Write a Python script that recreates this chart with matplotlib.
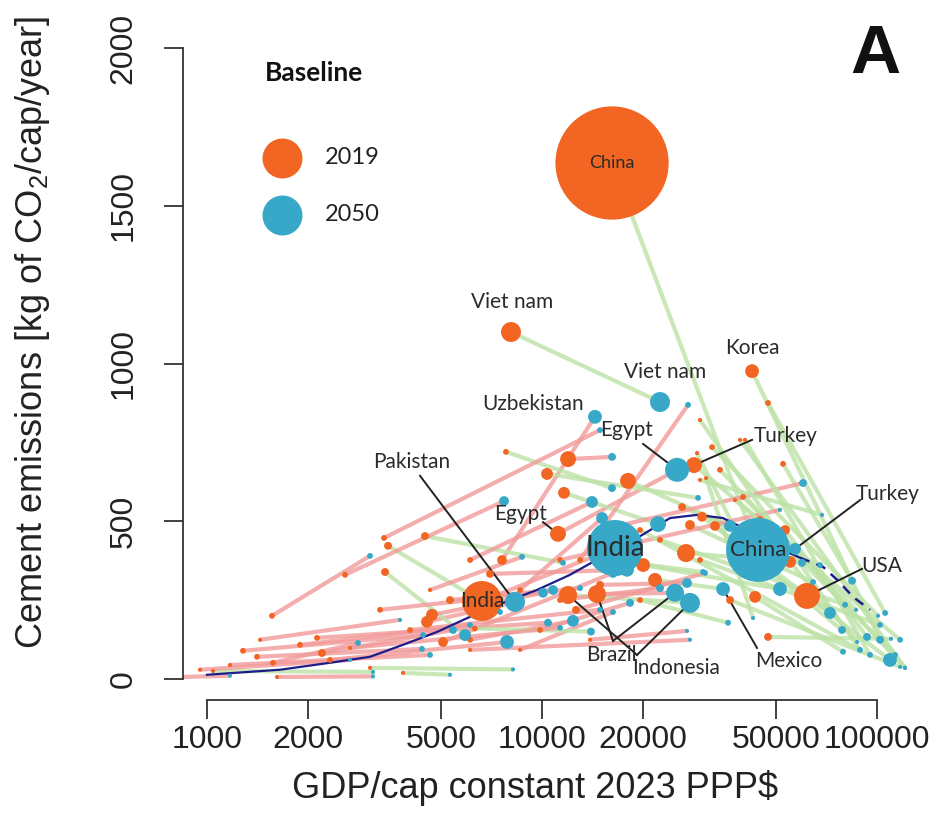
import numpy as np
import matplotlib.pyplot as plt
from matplotlib import font_manager

# country-level cement emissions, 2019 vs 2050 baseline
gdp_2019 = [16180, 6620, 8080, 42360, 7597, 11160, 28420, 4536, 61800, 21740, 14590, 11960,
            11960, 10350, 11630, 18060, 20030, 26910, 26180, 30030, 32840, 27650, 53140, 54990,
            43240, 47270, 52410, 39810, 32170, 47270, 14900, 29020, 30870, 7806, 4474, 12990,
            3470, 3399, 1563, 2582, 1281, 2130, 1410, 1574, 831, 1618, 1042, 2204,
            6994, 5064, 4694, 12630, 11320, 3066, 3846, 2328, 6098, 8597, 6098, 9863,
            8597, 14900, 11320, 19610, 13910, 15960, 29620, 5314, 4631, 3376, 39000, 29620,
            37680, 6300, 33980, 40360, 44740, 29620, 19610, 36410, 22500, 953, 1171, 1895,
            2673, 1440, 4037, 6098, 3285]
em_2019 = [1636, 247, 1100, 976, 377, 460, 678, 181, 263, 314, 269, 266,
           697, 650, 590, 628, 361, 399, 545, 514, 485, 488, 472, 371,
           260, 133, 682, 577, 735, 875, 472, 716, 637, 720, 453, 377,
           422, 339, 200, 330, 89, 130, 70, 51, 6, 6, 25, 82,
           333, 117, 203, 219, 377, 35, 19, 60, 377, 282, 124, 155,
           92, 298, 250, 250, 124, 377, 631, 250, 282, 447, 758, 821,
           567, 160, 663, 758, 504, 377, 472, 250, 441, 29, 44, 108,
           98, 124, 155, 92, 219]
gdp_2050 = [44140, 16510, 22500, 102100, 14390, 25300, 56920, 8307, 109300, 34700, 24950, 27650,
            16180, 29230, 22200, 36410, 51320, 59720, 67570, 72380, 78620, 64420, 93340, 87170,
            79160, 110100, 84220, 86580, 100700, 105700, 60130, 42650, 42650, 16180, 11550, 27280,
            7493, 5890, 3066, 7703, 4413, 10420, 4383, 2823, 1171, 3130, 3130, 5424,
            17940, 16290, 10070, 30660, 51320, 8193, 5314, 7862, 14100, 15110, 12370, 18310,
            16290, 27090, 22500, 35920, 27090, 30240, 68500, 10790, 8717, 14900, 121200, 88980,
            117200, 14000, 121200, 95300, 113200, 102100, 89010, 117200, 80260, 2673, 4631, 6098,
            11320, 3769, 14900, 27650, 12990]
em_2050 = [409, 415, 878, 124, 831, 663, 412, 244, 60, 285, 273, 241,
           704, 574, 491, 485, 285, 368, 361, 209, 155, 307, 133, 117,
           86, 127, 311, 219, 200, 209, 621, 361, 193, 605, 368, 869,
           212, 139, 390, 564, 139, 178, 95, 114, 10, 8, 22, 155,
           346, 336, 273, 336, 536, 30, 13, 117, 561, 510, 184, 241,
           212, 304, 288, 178, 152, 339, 520, 282, 387, 789, 35, 92,
           124, 150, 35, 76, 76, 171, 92, 38, 235, 60, 76, 171,
           162, 187, 219, 124, 288]
# national totals (Mt CO2), set the dot areas
mt_2019 = [2290, 283, 69, 32, 15, 43, 43, 23, 118, 32, 56, 56,
           43, 23, 23, 43, 32, 56, 9, 15, 15, 15, 15, 23,
           23, 9, 4, 4, 4, 4, 4, 1, 1, 4, 9, 4,
           9, 9, 4, 4, 4, 4, 4, 4, 1, 1, 1, 9,
           9, 15, 23, 9, 4, 1, 1, 4, 4, 4, 4, 4,
           1, 9, 4, 4, 1, 4, 1, 9, 1, 4, 1, 1,
           1, 4, 4, 1, 9, 4, 4, 9, 4, 1, 1, 4,
           1, 1, 4, 1, 4]
mt_2050 = [729, 558, 69, 9, 32, 100, 23, 69, 32, 32, 56, 69,
           9, 4, 43, 23, 32, 9, 4, 23, 9, 4, 9, 1,
           4, 1, 9, 1, 1, 4, 9, 9, 1, 9, 4, 4,
           4, 23, 4, 15, 4, 9, 4, 4, 1, 1, 1, 9,
           32, 15, 15, 4, 1, 1, 1, 32, 23, 23, 23, 9,
           4, 15, 9, 4, 1, 4, 1, 15, 4, 4, 1, 4,
           4, 9, 1, 4, 4, 4, 1, 1, 4, 1, 4, 4,
           4, 1, 4, 1, 4]
country = ['China', 'India', 'Viet nam', 'Korea', 'Uzbekistan', 'Egypt', 'Turkey',
           'Pakistan', 'USA', 'Mexico', 'Brazil', 'Indonesia']
country += [''] * (len(gdp_2019) - len(country))

# fitted curve read along its path
curve_gdp = [1000, 1652, 2328, 3067, 3846, 4864, 6100, 7654, 9660, 12120, 14190,
             19880, 24100, 29020, 34670, 39810, 53830, 58930]
curve_em = [13, 29, 51, 70, 108, 149, 197, 241, 282, 330, 371,
            456, 510, 520, 510, 479, 403, 384]
curve_gdp_ext = [58930, 69040, 76030, 84800, 95300]
curve_em_ext = [384, 355, 314, 260, 219]

xticks = [1000, 2000, 5000, 10000, 20000, 50000, 100000]
yticks = [0, 500, 1000, 1500, 2000]

ORANGE = '#F26522'
BLUE = '#38A8C8'
PINK = '#F29A9A'
GREEN = '#BDE2A6'

names = {f.name for f in font_manager.fontManager.ttflist}
narrow = 'Liberation Sans Narrow' in names
tick_font = 'Liberation Sans Narrow' if narrow else 'Liberation Sans'
tick_size = 27 if narrow else 23
lab_font = 'Lato'
plt.rcParams['font.family'] = ['Liberation Sans', 'DejaVu Sans']
plt.rcParams['mathtext.default'] = 'regular'

fig = plt.figure(figsize=(9.47, 8.13), dpi=100)
ax = fig.add_axes([183 / 947, 113 / 813, 747 / 947, 677 / 813])
ax.set_xscale('log')
ax.set_xlim(848, 143900)
ax.set_ylim(-67, 2080)

# connecting segments: red-ish when emissions rise, green when they fall
for g0, e0, g1, e1 in zip(gdp_2019, em_2019, gdp_2050, em_2050):
    col = PINK if e1 > e0 else GREEN
    ax.plot([g0, g1], [e0, e1], color=col, lw=3.0, alpha=0.8,
            solid_capstyle='butt', zorder=1)

ax.plot(curve_gdp, curve_em, color='#1c1c8a', lw=1.6, zorder=2)
ax.plot(curve_gdp_ext, curve_em_ext, color='#1c1c8a', lw=1.8,
        ls=(0, (4, 3)), zorder=2)

s19 = 6 + 2.9 * np.array(mt_2019)
s50 = 6 + 2.9 * np.array(mt_2050)
ax.scatter(gdp_2019, em_2019, s=s19, color=ORANGE, lw=0, zorder=4)
ax.scatter(gdp_2050, em_2050, s=s50, color=BLUE, lw=0, zorder=5)

idx = {c: i for i, c in enumerate(country) if c}


def pt(name, year):
    i = idx[name]
    if year == 2019:
        return gdp_2019[i], em_2019[i]
    return gdp_2050[i], em_2050[i]


txt = dict(family=lab_font, color='#2b2b2b', ha='center', va='center', zorder=7)
ax.text(8134, 1195, 'Viet nam', fontsize=15, **txt)
ax.text(23290, 973, 'Viet nam', fontsize=15, **txt)
ax.text(42360, 1049, 'Korea', fontsize=15, **txt)
ax.text(9400, 872, 'Uzbekistan', fontsize=15, **txt)
ax.text(17940, 789, 'Egypt', fontsize=15, **txt)
ax.text(53500, 770, 'Turkey', fontsize=15, **txt)
ax.text(4091, 688, 'Pakistan', fontsize=15, **txt)
ax.text(8657, 523, 'Egypt', fontsize=15, **txt)
ax.text(107800, 586, 'Turkey', fontsize=15, **txt)
ax.text(103500, 358, 'USA', fontsize=15, **txt)
ax.text(16070, 76, 'Brazil', fontsize=15, **txt)
ax.text(25120, 35, 'Indonesia', fontsize=15, **txt)
ax.text(54620, 57, 'Mexico', fontsize=15, **txt)

# names drawn inside the big circles
ax.text(*pt('China', 2019), 'China', fontsize=13, **txt)
ax.text(*pt('China', 2050), 'China', fontsize=16, **txt)
ax.text(*pt('India', 2019), 'India', fontsize=15, **txt)
ax.text(*pt('India', 2050), 'India', fontsize=20, **txt)

leaders = [((4323, 644), ('Pakistan', 2050)),
           ((10070, 497), ('Egypt', 2019)),
           ((20030, 745), ('Egypt', 2050)),
           ((42360, 758), ('Turkey', 2019)),
           ((88980, 567), ('Turkey', 2050)),
           ((90200, 349), ('USA', 2019)),
           ((43840, 98), ('Mexico', 2050)),
           ((16290, 120), ('Brazil', 2019)),
           ((16290, 120), ('Brazil', 2050)),
           ((19210, 76), ('Indonesia', 2019)),
           ((19210, 76), ('Indonesia', 2050))]
for start, (name, year) in leaders:
    end = pt(name, year)
    ax.plot([start[0], end[0]], [start[1], end[1]], color='#222222', lw=1.4, zorder=3)

for side in ['top', 'right']:
    ax.spines[side].set_visible(False)
ax.spines['left'].set_bounds(0, 2000)
ax.spines['bottom'].set_bounds(1000, 100000)
for side in ['left', 'bottom']:
    ax.spines[side].set_linewidth(1.3)
    ax.spines[side].set_color('#333333')

ax.set_xticks(xticks)
ax.set_xticklabels([str(v) for v in xticks])
ax.xaxis.set_minor_locator(plt.NullLocator())
ax.set_yticks(yticks)
ax.set_yticklabels([str(v) for v in yticks], rotation=90, va='center')
ax.tick_params(axis='both', length=14, width=1.3, color='#333333',
               labelsize=tick_size, labelcolor='#222222')
ax.tick_params(axis='x', pad=4)
ax.tick_params(axis='y', pad=18)
for lab in ax.get_xticklabels() + ax.get_yticklabels():
    lab.set_family(tick_font)

ax.set_xlabel('GDP/cap constant 2023 PPP$', fontsize=26, color='#222222')
ax.xaxis.set_label_coords(0.4717, -0.104)
ax.set_ylabel('Cement emissions [kg of CO$_2$/cap/year]', fontsize=26, color='#222222')
ax.yaxis.set_label_coords(-0.175, 0.543)

# legend
ax.text(0.1098, 0.926, 'Baseline', transform=ax.transAxes, fontsize=19,
        fontweight='bold', family=lab_font, ha='left', va='center', color='#111111')
ax.scatter([0.1325], [0.8006], s=829, color=ORANGE, lw=0, transform=ax.transAxes,
           clip_on=False, zorder=6)
ax.scatter([0.1325], [0.7164], s=829, color=BLUE, lw=0, transform=ax.transAxes,
           clip_on=False, zorder=6)
ax.text(0.190, 0.8006, '2019', transform=ax.transAxes, fontsize=17,
        family=lab_font, ha='left', va='center', color='#222222')
ax.text(0.190, 0.7164, '2050', transform=ax.transAxes, fontsize=17,
        family=lab_font, ha='left', va='center', color='#222222')

fig.text(875 / 947, 1 - 55 / 813, 'A', fontsize=50, fontweight='bold',
         ha='center', va='center', color='#111111')

fig.savefig('out.png', dpi=100)
